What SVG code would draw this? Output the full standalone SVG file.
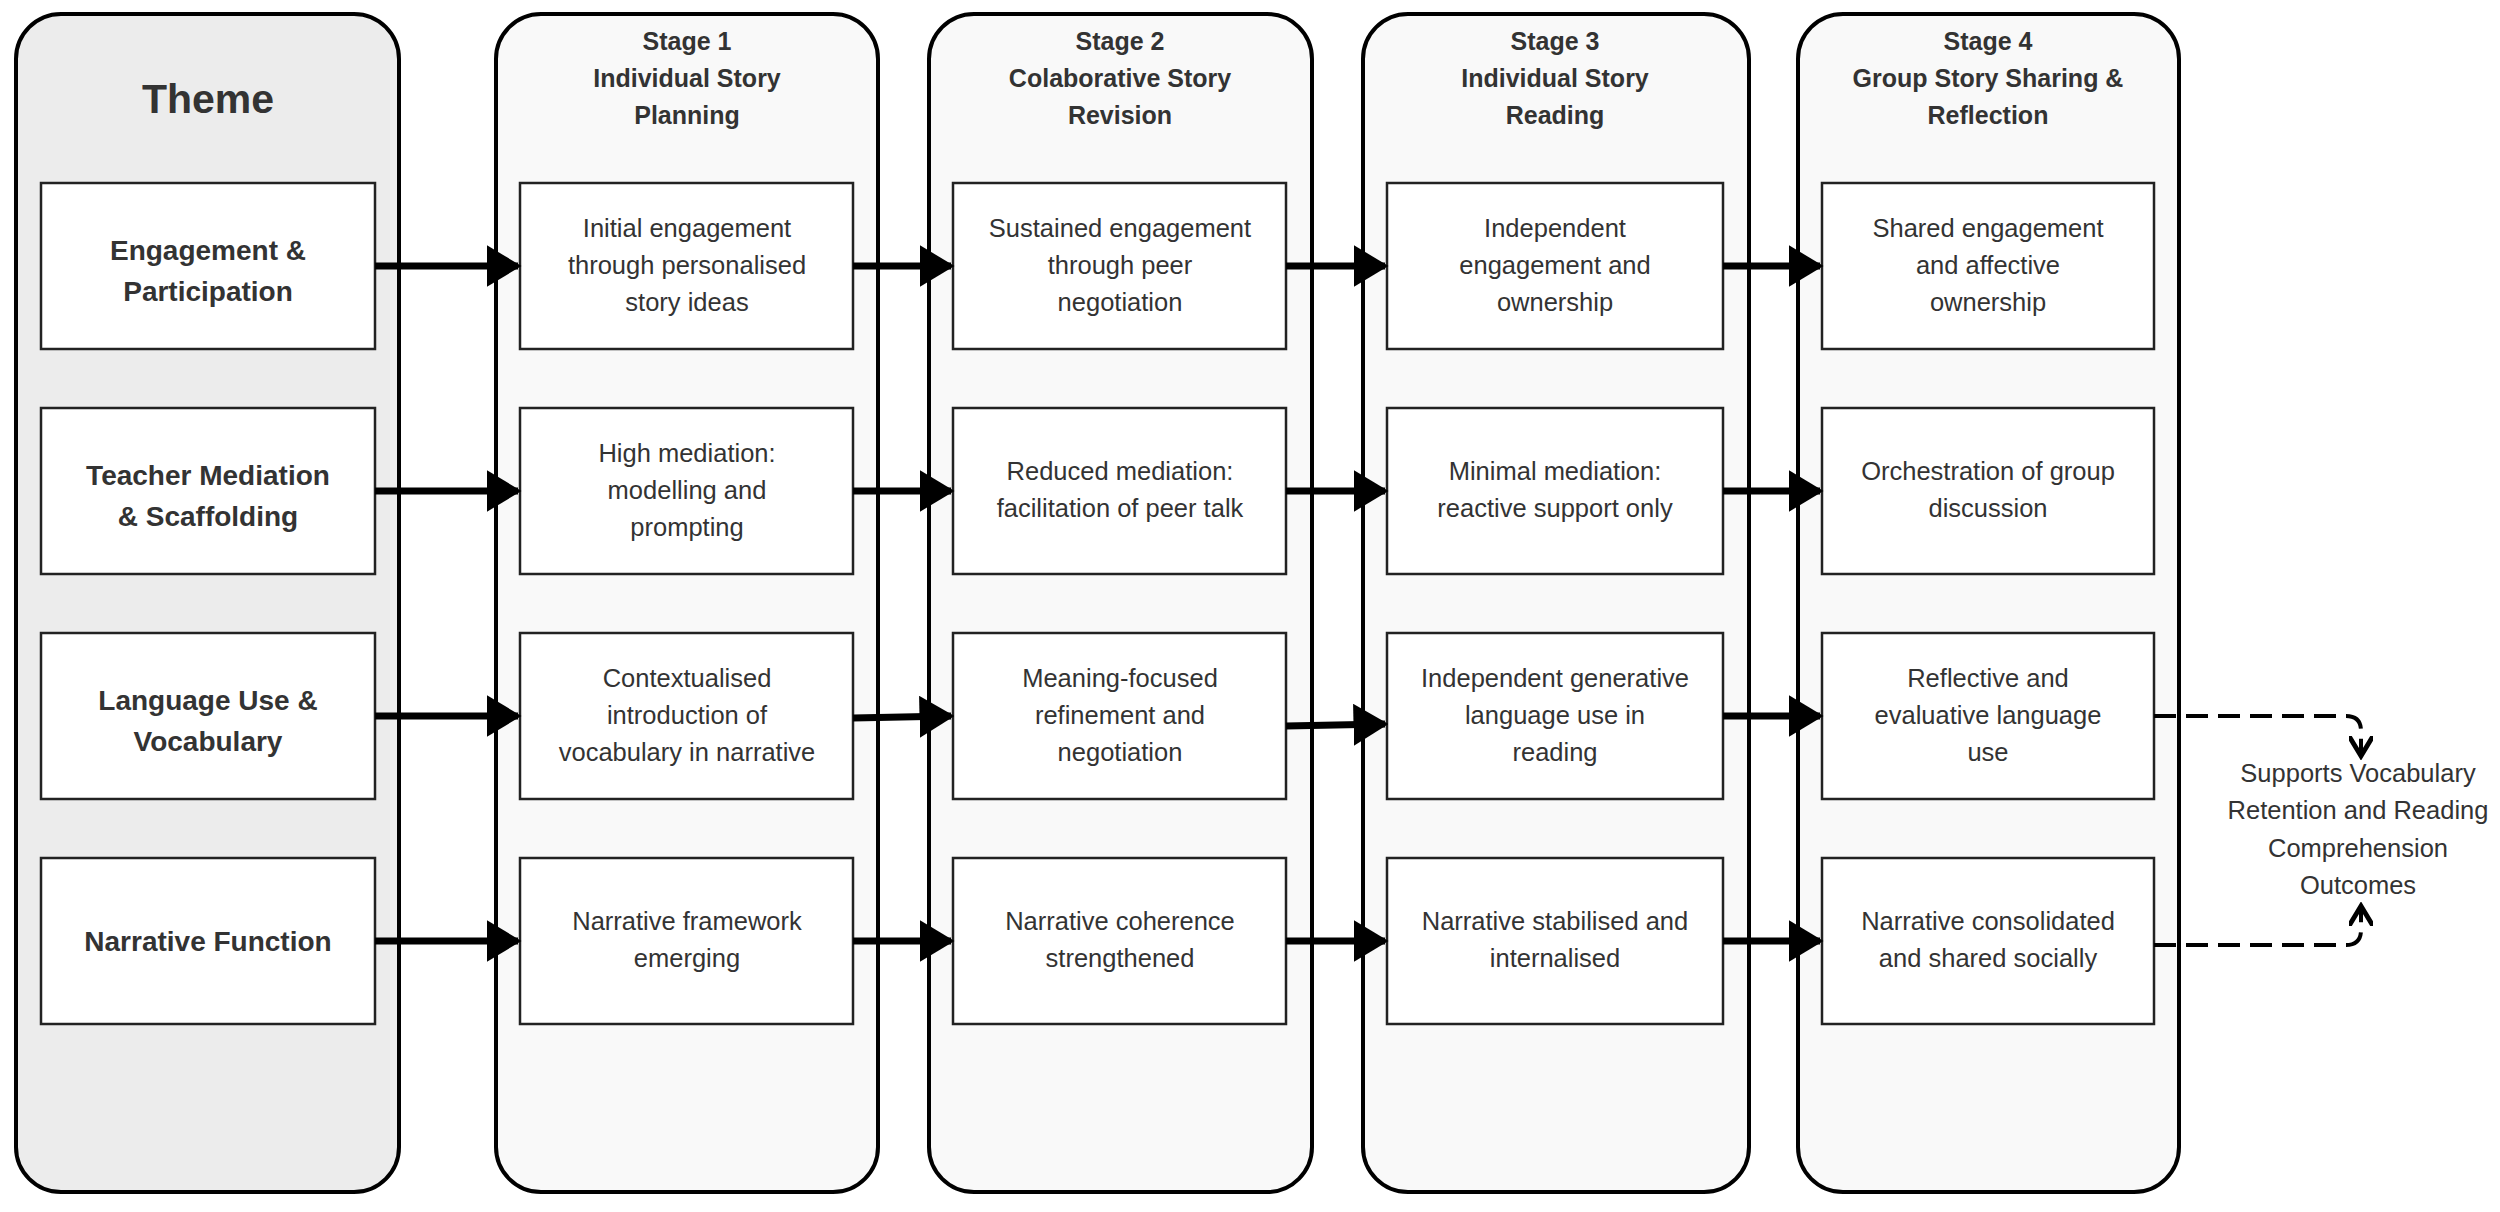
<svg xmlns="http://www.w3.org/2000/svg" width="2500" height="1212" viewBox="0 0 2500 1212">
<style>
.col{fill:#f9f9f9;stroke:#000;stroke-width:4}
.th{fill:#ececec;stroke:#000;stroke-width:4}
.box{fill:#fff;stroke:#222;stroke-width:2.5}
text{font-family:"Liberation Sans",Arial,sans-serif;fill:#333;text-anchor:middle}
.b{font-weight:bold;font-size:28px}
.h{font-weight:bold;font-size:25px}
.t{font-size:25.5px}
.a{stroke:#000;stroke-width:7;fill:none;marker-end:url(#ah)}
.d{stroke:#000;stroke-width:4;fill:none;stroke-dasharray:22 10;marker-end:url(#oh)}
</style>
<defs>
<marker id="ah" markerWidth="5" markerHeight="6" refX="4.5" refY="3" orient="auto" markerUnits="strokeWidth"><path d="M0,0 L5,3 L0,6 Z" fill="#000"/></marker>
<marker id="oh" markerWidth="6" markerHeight="6" refX="5" refY="3" orient="auto" markerUnits="strokeWidth"><path d="M0,0 L5,3 L0,6" fill="none" stroke="#000" stroke-width="1.2"/></marker>
</defs>
<g id="theme"><rect class="th" x="16" y="14" width="383" height="1178" rx="45"/><text x="208" y="113" style="font-weight:bold;font-size:41px">Theme</text></g>
<g id="stage1"><rect class="col" x="496" y="14" width="382" height="1178" rx="45"/><text class="h" x="687" y="50">Stage 1</text><text class="h" x="687" y="87">Individual Story</text><text class="h" x="687" y="124">Planning</text></g>
<g id="stage2"><rect class="col" x="929" y="14" width="383" height="1178" rx="45"/><text class="h" x="1120" y="50">Stage 2</text><text class="h" x="1120" y="87">Colaborative Story</text><text class="h" x="1120" y="124">Revision</text></g>
<g id="stage3"><rect class="col" x="1363" y="14" width="386" height="1178" rx="45"/><text class="h" x="1555" y="50">Stage 3</text><text class="h" x="1555" y="87">Individual Story</text><text class="h" x="1555" y="124">Reading</text></g>
<g id="stage4"><rect class="col" x="1798" y="14" width="381" height="1178" rx="45"/><text class="h" x="1988" y="50">Stage 4</text><text class="h" x="1988" y="87">Group Story Sharing &amp;</text><text class="h" x="1988" y="124">Reflection</text></g>

<g id="t1"><rect class="box" x="41" y="183" width="334" height="166"/><text class="b" x="208" y="260">Engagement &amp;</text><text class="b" x="208" y="301">Participation</text></g>
<g id="t2"><rect class="box" x="41" y="408" width="334" height="166"/><text class="b" x="208" y="485">Teacher Mediation</text><text class="b" x="208" y="526">&amp; Scaffolding</text></g>
<g id="t3"><rect class="box" x="41" y="633" width="334" height="166"/><text class="b" x="208" y="710">Language Use &amp;</text><text class="b" x="208" y="751">Vocabulary</text></g>
<g id="t4"><rect class="box" x="41" y="858" width="334" height="166"/><text class="b" x="208" y="951">Narrative Function</text></g>

<g id="s1r1"><rect class="box" x="520" y="183" width="333" height="166"/><text class="t" x="687" y="237">Initial engagement</text><text class="t" x="687" y="274">through personalised</text><text class="t" x="687" y="311">story ideas</text></g>
<g id="s1r2"><rect class="box" x="520" y="408" width="333" height="166"/><text class="t" x="687" y="462">High mediation:</text><text class="t" x="687" y="499">modelling and</text><text class="t" x="687" y="536">prompting</text></g>
<g id="s1r3"><rect class="box" x="520" y="633" width="333" height="166"/><text class="t" x="687" y="687">Contextualised</text><text class="t" x="687" y="724">introduction of</text><text class="t" x="687" y="761">vocabulary in narrative</text></g>
<g id="s1r4"><rect class="box" x="520" y="858" width="333" height="166"/><text class="t" x="687" y="930">Narrative framework</text><text class="t" x="687" y="967">emerging</text></g>

<g id="s2r1"><rect class="box" x="953" y="183" width="333" height="166"/><text class="t" x="1120" y="237">Sustained engagement</text><text class="t" x="1120" y="274">through peer</text><text class="t" x="1120" y="311">negotiation</text></g>
<g id="s2r2"><rect class="box" x="953" y="408" width="333" height="166"/><text class="t" x="1120" y="480">Reduced mediation:</text><text class="t" x="1120" y="517">facilitation of peer talk</text></g>
<g id="s2r3"><rect class="box" x="953" y="633" width="333" height="166"/><text class="t" x="1120" y="687">Meaning-focused</text><text class="t" x="1120" y="724">refinement and</text><text class="t" x="1120" y="761">negotiation</text></g>
<g id="s2r4"><rect class="box" x="953" y="858" width="333" height="166"/><text class="t" x="1120" y="930">Narrative coherence</text><text class="t" x="1120" y="967">strengthened</text></g>

<g id="s3r1"><rect class="box" x="1387" y="183" width="336" height="166"/><text class="t" x="1555" y="237">Independent</text><text class="t" x="1555" y="274">engagement and</text><text class="t" x="1555" y="311">ownership</text></g>
<g id="s3r2"><rect class="box" x="1387" y="408" width="336" height="166"/><text class="t" x="1555" y="480">Minimal mediation:</text><text class="t" x="1555" y="517">reactive support only</text></g>
<g id="s3r3"><rect class="box" x="1387" y="633" width="336" height="166"/><text class="t" x="1555" y="687">Independent generative</text><text class="t" x="1555" y="724">language use in</text><text class="t" x="1555" y="761">reading</text></g>
<g id="s3r4"><rect class="box" x="1387" y="858" width="336" height="166"/><text class="t" x="1555" y="930">Narrative stabilised and</text><text class="t" x="1555" y="967">internalised</text></g>

<g id="s4r1"><rect class="box" x="1822" y="183" width="332" height="166"/><text class="t" x="1988" y="237">Shared engagement</text><text class="t" x="1988" y="274">and affective</text><text class="t" x="1988" y="311">ownership</text></g>
<g id="s4r2"><rect class="box" x="1822" y="408" width="332" height="166"/><text class="t" x="1988" y="480">Orchestration of group</text><text class="t" x="1988" y="517">discussion</text></g>
<g id="s4r3"><rect class="box" x="1822" y="633" width="332" height="166"/><text class="t" x="1988" y="687">Reflective and</text><text class="t" x="1988" y="724">evaluative language</text><text class="t" x="1988" y="761">use</text></g>
<g id="s4r4"><rect class="box" x="1822" y="858" width="332" height="166"/><text class="t" x="1988" y="930">Narrative consolidated</text><text class="t" x="1988" y="967">and shared socially</text></g>

<g id="outcome"><text class="t" x="2358" y="782">Supports Vocabulary</text><text class="t" x="2358" y="819">Retention and Reading</text><text class="t" x="2358" y="857">Comprehension</text><text class="t" x="2358" y="894">Outcomes</text></g>

<g id="connectors">
<path class="a" d="M375,266 H518"/><path class="a" d="M853,266 H951"/><path class="a" d="M1286,266 H1385"/><path class="a" d="M1723,266 H1820"/>
<path class="a" d="M375,491 H518"/><path class="a" d="M853,491 H951"/><path class="a" d="M1286,491 H1385"/><path class="a" d="M1723,491 H1820"/>
<path class="a" d="M375,716 H518"/><path class="a" d="M853,718 L951,716"/><path class="a" d="M1286,726 L1385,724"/><path class="a" d="M1723,716 H1820"/>
<path class="a" d="M375,941 H518"/><path class="a" d="M853,941 H951"/><path class="a" d="M1286,941 H1385"/><path class="a" d="M1723,941 H1820"/>
<path class="d" d="M2154,716 H2346 Q2361,716 2361,731 V756"/>
<path class="d" d="M2154,945 H2346 Q2361,945 2361,930 V906"/>
</g>
</svg>
